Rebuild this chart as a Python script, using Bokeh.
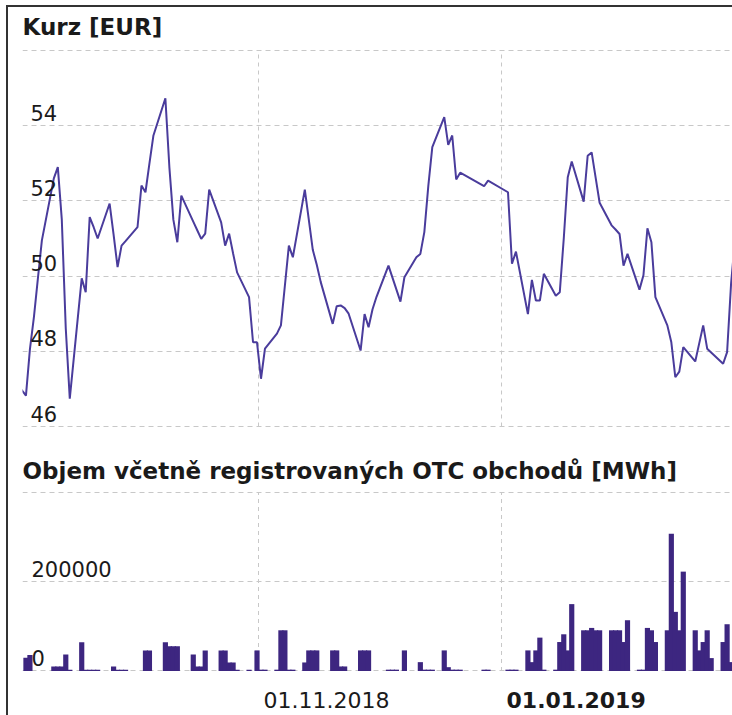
import pandas as pd
from bokeh.plotting import figure
from bokeh.models import Range1d, Grid, FixedTicker, Label
from bokeh.layouts import column
from bokeh.embed import file_html
from bokeh.resources import INLINE

# ---------------- data ----------------
price_dates = [
    "2018-08-31", "2018-09-03", "2018-09-04", "2018-09-05", "2018-09-06", "2018-09-07",
    "2018-09-10", "2018-09-11", "2018-09-12", "2018-09-13", "2018-09-14",
    "2018-09-17", "2018-09-18", "2018-09-19", "2018-09-20", "2018-09-21",
    "2018-09-24", "2018-09-25", "2018-09-26", "2018-09-27", "2018-09-28",
    "2018-10-01", "2018-10-02", "2018-10-03", "2018-10-04", "2018-10-05",
    "2018-10-08", "2018-10-09", "2018-10-10", "2018-10-11", "2018-10-12",
    "2018-10-15", "2018-10-16", "2018-10-17", "2018-10-18", "2018-10-19",
    "2018-10-22", "2018-10-23", "2018-10-24", "2018-10-25", "2018-10-26",
    "2018-10-29", "2018-10-30", "2018-10-31", "2018-11-01", "2018-11-02",
    "2018-11-05", "2018-11-06", "2018-11-07", "2018-11-08", "2018-11-09",
    "2018-11-12", "2018-11-13", "2018-11-14", "2018-11-15", "2018-11-16",
    "2018-11-19", "2018-11-20", "2018-11-21", "2018-11-22", "2018-11-23",
    "2018-11-26", "2018-11-27", "2018-11-28", "2018-11-29", "2018-11-30",
    "2018-12-03", "2018-12-04", "2018-12-05", "2018-12-06", "2018-12-07",
    "2018-12-10", "2018-12-11", "2018-12-12", "2018-12-13", "2018-12-14",
    "2018-12-17", "2018-12-18", "2018-12-19", "2018-12-20", "2018-12-21",
    "2018-12-27", "2018-12-28",
    "2019-01-02", "2019-01-03", "2019-01-04",
    "2019-01-07", "2019-01-08", "2019-01-09", "2019-01-10", "2019-01-11",
    "2019-01-14", "2019-01-15", "2019-01-16", "2019-01-17", "2019-01-18",
    "2019-01-21", "2019-01-22", "2019-01-23", "2019-01-24", "2019-01-25",
    "2019-01-28", "2019-01-29", "2019-01-30", "2019-01-31", "2019-02-01",
    "2019-02-04", "2019-02-05", "2019-02-06", "2019-02-07", "2019-02-08",
    "2019-02-11", "2019-02-12", "2019-02-13", "2019-02-14", "2019-02-15",
    "2019-02-18", "2019-02-19", "2019-02-20", "2019-02-21", "2019-02-22",
    "2019-02-25", "2019-02-26", "2019-02-27", "2019-02-28",
]
price_values = [
    47.25, 46.82, 48.06, 48.91, 49.94, 50.95,
    52.6, 52.9, 51.5, 48.6, 46.74,
    49.94, 49.57, 51.57, 51.3, 51.0,
    51.93, 51.1, 50.24, 50.81, 50.93,
    51.3, 52.41, 52.23, 53.0, 53.74,
    54.73, 52.9, 51.5, 50.9, 52.14,
    51.45, 51.22, 50.99, 51.13, 52.3,
    51.43, 50.81, 51.13, 50.6, 50.1,
    49.44, 48.24, 48.24, 47.27, 48.07,
    48.47, 48.69, 49.75, 50.81, 50.5,
    52.3, 51.5, 50.7, 50.3, 49.84,
    48.73, 49.2, 49.22, 49.15, 49.0,
    48.02, 48.99, 48.64, 49.12, 49.45,
    50.28, 49.96, 49.64, 49.32, 49.97,
    50.5, 50.59, 51.17, 52.4, 53.43,
    54.23, 53.49, 53.74, 52.57, 52.75,
    52.39, 52.54,
    52.23, 50.33, 50.65,
    48.99, 49.9, 49.35, 49.35, 50.06,
    49.48, 49.57, 51.0, 52.63, 53.05,
    51.98, 53.2, 53.29, 52.62, 51.95,
    51.35, 51.24, 51.12, 50.28, 50.59,
    49.64, 50.02, 51.27, 50.9, 49.44,
    48.69, 48.24, 47.31, 47.46, 48.11,
    47.73, 48.21, 48.69, 48.07, 47.97,
    47.67, 47.98, 49.8, 51.0,
]

vol_dates = [
    "2018-09-03", "2018-09-04", "2018-09-10", "2018-09-11", "2018-09-12", "2018-09-13",
    "2018-09-14", "2018-09-17", "2018-09-18", "2018-09-19", "2018-09-20", "2018-09-21",
    "2018-09-25", "2018-09-26", "2018-09-27", "2018-09-28",
    "2018-10-03", "2018-10-04",
    "2018-10-08", "2018-10-09", "2018-10-10", "2018-10-11",
    "2018-10-15", "2018-10-16", "2018-10-17", "2018-10-18",
    "2018-10-22", "2018-10-23", "2018-10-24", "2018-10-25", "2018-10-26",
    "2018-10-29", "2018-10-31", "2018-11-01", "2018-11-02", "2018-11-05",
    "2018-11-06", "2018-11-07", "2018-11-08", "2018-11-09",
    "2018-11-12", "2018-11-13", "2018-11-14", "2018-11-15",
    "2018-11-19", "2018-11-20", "2018-11-21", "2018-11-22",
    "2018-11-26", "2018-11-27", "2018-11-28",
    "2018-12-03", "2018-12-04", "2018-12-05", "2018-12-07",
    "2018-12-11", "2018-12-12", "2018-12-13", "2018-12-14",
    "2018-12-17", "2018-12-18", "2018-12-19", "2018-12-20", "2018-12-21",
    "2018-12-27", "2018-12-28",
    "2019-01-02", "2019-01-03", "2019-01-04",
    "2019-01-07", "2019-01-08", "2019-01-09", "2019-01-10", "2019-01-11",
    "2019-01-14", "2019-01-15", "2019-01-16", "2019-01-17", "2019-01-18",
    "2019-01-21", "2019-01-22", "2019-01-23", "2019-01-24", "2019-01-25",
    "2019-01-28", "2019-01-29", "2019-01-30", "2019-01-31", "2019-02-01",
    "2019-02-04", "2019-02-05", "2019-02-06", "2019-02-07", "2019-02-08",
    "2019-02-11", "2019-02-12", "2019-02-13", "2019-02-14", "2019-02-15",
    "2019-02-18", "2019-02-19", "2019-02-20", "2019-02-21", "2019-02-22",
    "2019-02-25", "2019-02-26", "2019-02-27",
]
vol_values = [
    29800, 36000, 10200, 10200, 10200, 37300,
    3000, 64400, 3000, 3000, 3000, 3000,
    10200, 3000, 3000, 3000,
    46300, 46300,
    64400, 55400, 55400, 55400,
    37300, 10200, 10200, 46300,
    46300, 46300, 19200, 19200, 3000,
    3000, 46300, 3000, 3000, 3000,
    91500, 91500, 3000, 3000,
    19200, 46300, 46300, 46300,
    46300, 46300, 10200, 10200,
    46300, 46300, 46300,
    3000, 3000, 3000, 46300,
    19900, 3000, 3000, 3000,
    46300, 8600, 3000, 3000, 3000,
    3000, 3000,
    3000, 3000, 3000,
    46300, 19900, 46300, 75000, 3000,
    3000, 65100, 82500, 46300, 150300,
    91500, 91500, 96800, 91500, 91500,
    91500, 91500, 91500, 65100, 114100,
    3000, 3000, 96800, 91500, 65100,
    91500, 308500, 132900, 91500, 223300,
    91500, 46300, 65100, 91500, 29000,
    65100, 105100, 20000,
]

price_tick_values = [46, 48, 50, 52, 54]
price_grid_values = [46, 48, 50, 52, 54, 56]
vol_tick_values = [0, 200000]
vol_tick_labels = ["0", "200000"]
vol_grid_values = [0, 200000, 400000]
x_tick_dates = ["2018-11-01", "2019-01-01"]
x_tick_labels = ["01.11.2018", "01.01.2019"]
x_tick_weights = ["normal", "bold"]

# ---------------- style ----------------
FONT = "DejaVu Sans"
LINE_COLOR = "#4a3c9c"
BAR_COLOR = "#3d2680"
GRID_COLOR = "#c8c8c8"
TEXT_COLOR = "#1a1a1a"
OBS = pd.Timedelta(hours=15)

px = pd.to_datetime(price_dates) + OBS
vx = pd.to_datetime(vol_dates) + OBS
grid_dates = pd.to_datetime(x_tick_dates)

anchor = pd.Timestamp("2018-11-01")
x_start = anchor - pd.Timedelta(days=59.24)
x_end = anchor + pd.Timedelta(days=118.98)

# frames fill each figure; the value ranges leave room for titles and labels
PRICE_RANGE = (45.6277, 57.1436)
VOL_RANGE = (-100000, 517977)


def make_fig(height, y0, y1):
    p = figure(width=724, height=height, x_axis_type="datetime",
               x_range=Range1d(x_start, x_end), y_range=Range1d(y0, y1),
               x_axis_location=None, y_axis_location=None,
               toolbar_location=None, output_backend="svg",
               min_border_left=14, min_border_right=0,
               min_border_top=0, min_border_bottom=0)
    p.outline_line_color = None
    p.background_fill_color = "white"
    p.border_fill_color = "white"
    p.xgrid.visible = False
    p.ygrid.visible = False
    return p


def add_grids(p, yvals):
    p.add_layout(Grid(dimension=1, ticker=FixedTicker(ticks=yvals),
                      grid_line_color=GRID_COLOR, grid_line_dash="5 4", grid_line_width=1))
    n = len(grid_dates)
    p.segment(x0=grid_dates, x1=grid_dates, y0=[yvals[0]] * n, y1=[yvals[-1]] * n,
              line_color=GRID_COLOR, line_dash="4 4", line_width=1)


def text_label(p, text, size, weight="normal", **kw):
    p.add_layout(Label(text=text, text_font=FONT, text_font_size=size, text_font_style=weight,
                       text_color=TEXT_COLOR, text_align="left", text_baseline="alphabetic", **kw))


# price pane
p1 = make_fig(433, *PRICE_RANGE)
add_grids(p1, price_grid_values)
p1.line(px, price_values, line_color=LINE_COLOR, line_width=2)
text_label(p1, "Kurz [EUR]", "23px", "bold", x=0, y=413.5, x_units="screen", y_units="screen")
for v in price_tick_values:
    text_label(p1, str(v), "21px", x=8, y=v, x_units="screen", y_units="data", y_offset=13)

# volume pane
p2 = make_fig(275, *VOL_RANGE)
add_grids(p2, vol_grid_values)
p2.vbar(x=vx, top=vol_values, bottom=0, width=pd.Timedelta(days=1.3).total_seconds() * 1000,
        fill_color=BAR_COLOR, line_color=None)
text_label(p2, "Objem včetně registrovaných OTC obchodů [MWh]", "23px", "bold",
           x=0, y=245, x_units="screen", y_units="screen")
for v, t in zip(vol_tick_values, vol_tick_labels):
    text_label(p2, t, "21px", x=9, y=v, x_units="screen", y_units="data", y_offset=12.5)
for d, t, w in zip(grid_dates, x_tick_labels, x_tick_weights):
    text_label(p2, t, "22px", w, x=d, y=15.5, x_units="data", y_units="screen", x_offset=5)

layout = column(p1, p2, spacing=0,
                styles={"margin-left": "6px", "margin-top": "5px",
                        "border-left": "2px solid #333333", "border-top": "2px solid #333333"})

open("out.html", "w").write(file_html(layout, INLINE))
